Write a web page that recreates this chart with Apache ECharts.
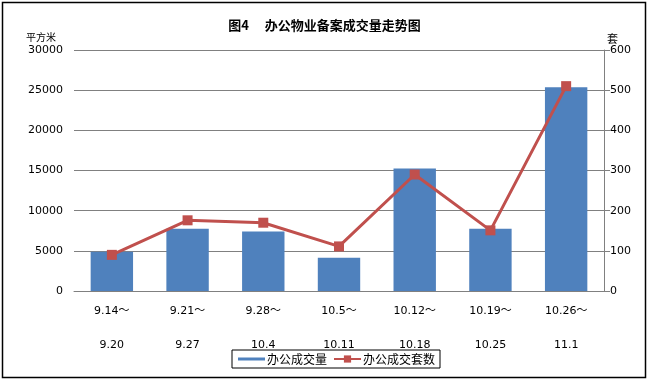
<!DOCTYPE html>
<html>
<head>
<meta charset="utf-8">
<script src="https://cdn.jsdelivr.net/npm/echarts@6/dist/echarts.min.js"></script>
<style>
html,body{margin:0;padding:0;background:#fff;}
#c{width:649px;height:382px;}
</style>
</head>
<body>
<div id="c"></div>
<script>
var categories = ['9.14～\n\n9.20','9.21～\n\n9.27','9.28～\n\n10.4','10.5～\n\n10.11','10.12～\n\n10.18','10.19～\n\n10.25','10.26～\n\n11.1'];
var areaValues = [4900, 7750, 7400, 4150, 15250, 7750, 25350];
var unitValues = [90, 176, 170, 111, 290, 151, 510];
var leftTicks = [0, 5000, 10000, 15000, 20000, 25000, 30000];
var rightTicks = [0, 100, 200, 300, 400, 500, 600];

var chart = echarts.init(document.getElementById('c'), null, {renderer:'canvas'});
var font = '"DejaVu Sans", "Noto Sans CJK SC", sans-serif';
chart.setOption({
  animation: false,
  backgroundColor: '#fff',
  textStyle: {fontFamily: font},
  title: {
    text: '图4　 办公物业备案成交量走势图',
    left: 'center', top: 14,
    textStyle: {fontSize: 13, fontWeight: 'bold', color: '#000', fontFamily: '"Noto Sans CJK SC", sans-serif'}
  },
  graphic: [{
    type: 'rect', shape: {x: 2.5, y: 2.5, width: 643, height: 375},
    style: {fill: 'none', stroke: '#000', lineWidth: 1.5}, silent: true, z: 100
  }],
  legend: {
    left: 232, top: 350,
    padding: [3, 5, 3, 6],
    borderColor: '#000', borderWidth: 1,
    itemGap: 6, itemWidth: 27, itemHeight: 9,
    textStyle: {fontSize: 12, color: '#000', fontFamily: '"Noto Sans CJK SC", sans-serif', padding: [0,0,0,-3]},
    data: [
      {name: '办公成交量', icon: 'path://M0,3L27,3L27,6L0,6Z'},
      {name: '办公成交套数'}
    ]
  },
  grid: {left: 74, right: 45, top: 50, bottom: 91},
  xAxis: {
    type: 'category', data: categories,
    axisLine: {show: true, lineStyle: {color: '#808080'}},
    axisTick: {show: false},
    axisLabel: {fontSize: 11, color: '#000', lineHeight: 17, margin: 12, interval: 0}
  },
  yAxis: [{
    type: 'value', min: 0, max: 30000, interval: 5000,
    name: '平方米', nameLocation: 'end', nameGap: 8,
    nameTextStyle: {fontSize: 10, color: '#000', align: 'right', padding: [0, 18, 0, 0], fontFamily: '"Noto Sans CJK SC", sans-serif'},
    axisLine: {show: false}, axisTick: {show: false},
    splitLine: {lineStyle: {color: '#808080', width: 1}},
    axisLabel: {fontSize: 11, color: '#000', margin: 11, formatter: function (v) { return String(v); }}
  }, {
    type: 'value', min: 0, max: 600, interval: 100, position: 'right',
    name: '套', nameLocation: 'end', nameGap: 3,
    nameTextStyle: {fontSize: 11, color: '#000', align: 'left', padding: [0, 0, 0, 3], fontFamily: '"Noto Sans CJK SC", sans-serif'},
    axisLine: {show: true, lineStyle: {color: '#808080'}},
    axisTick: {show: true, length: 6, inside: false, lineStyle: {color: '#808080'}},
    splitLine: {show: false},
    axisLabel: {fontSize: 11, color: '#000', margin: 6}
  }],
  series: [{
    name: '办公成交量', type: 'bar', data: areaValues, barWidth: '56%',
    itemStyle: {color: '#4F81BD'}
  }, {
    name: '办公成交套数', type: 'line', yAxisIndex: 1, data: unitValues,
    symbol: 'rect', symbolSize: 10,
    lineStyle: {color: '#C0504D', width: 3},
    itemStyle: {color: '#C0504D'}
  }]
});
</script>
</body>
</html>
